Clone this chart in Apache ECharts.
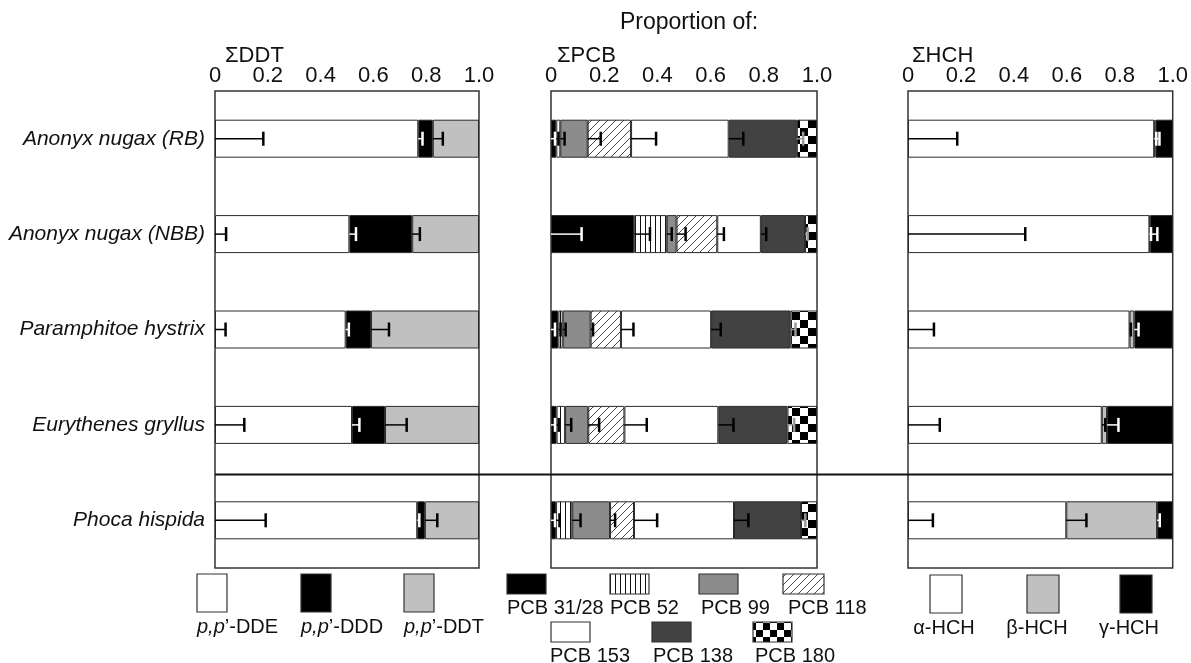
<!DOCTYPE html>
<html><head><meta charset="utf-8">
<script src="https://cdn.jsdelivr.net/npm/echarts@6/dist/echarts.min.js"></script>
<style>html,body{margin:0;padding:0;background:#fff}#c{width:1191px;height:663px}</style>
</head><body><div id="c"></div>
<script>
// ---------- DATA ----------
const categories = ['Anonyx nugax (RB)', 'Anonyx nugax (NBB)', 'Paramphitoe hystrix', 'Eurythenes gryllus', 'Phoca hispida'];
const tickLabels = ['0', '0.2', '0.4', '0.6', '0.8', '1.0'];

// ΣDDT proportions
const ddtDDE = [0.770, 0.509, 0.495, 0.519, 0.766];
const ddtDDD = [0.055, 0.238, 0.096, 0.125, 0.029];
const ddtDDT = [0.175, 0.253, 0.409, 0.356, 0.205];
const ddtErrBase = [0.183, 0.042, 0.040, 0.111, 0.192];
const ddtErrDDE  = [0.016, 0.025, 0.012, 0.028, 0.008];
const ddtErrDDD  = [0.038, 0.029, 0.068, 0.082, 0.047];

// ΣPCB proportions
const pcb31  = [0.020, 0.313, 0.028, 0.021, 0.019];
const pcb52  = [0.015, 0.122, 0.016, 0.032, 0.061];
const pcb99  = [0.103, 0.037, 0.105, 0.087, 0.142];
const pcb118 = [0.163, 0.153, 0.114, 0.136, 0.090];
const pcb153 = [0.367, 0.164, 0.339, 0.353, 0.376];
const pcb138 = [0.256, 0.166, 0.299, 0.260, 0.252];
const pcb180 = [0.076, 0.045, 0.099, 0.111, 0.060];
const pcbErrBase = [0.015, 0.115, 0.015, 0.015, 0.015];
const pcbErr31   = [0.008, 0.059, 0.008, 0.008, 0.013];
const pcbErr52   = [0.016, 0.019, 0.011, 0.023, 0.031];
const pcbErr99   = [0.049, 0.034, 0.009, 0.041, 0.019];
const pcbErr118  = [0.094, 0.025, 0.047, 0.084, 0.087];
const pcbErr153  = [0.055, 0.020, 0.036, 0.057, 0.054];
const pcbErr138  = [0.024, 0.010, 0.018, 0.025, 0.016];

// ΣHCH proportions
const hchA = [0.930, 0.912, 0.837, 0.732, 0.598];
const hchB = [0.005, 0.003, 0.018, 0.020, 0.343];
const hchG = [0.065, 0.085, 0.145, 0.248, 0.059];
const hchErrBase = [0.186, 0.443, 0.098, 0.120, 0.094];
const hchErrA    = [0.020, 0.030, 0.005, 0.013, 0.076];
const hchErrB    = [0.003, 0.003, 0.016, 0.043, 0.010];

// ---------- STYLE ----------
const FONT = '"Liberation Sans", Arial, Helvetica, sans-serif';

function makeCanvas(w, h, draw) {
  const c = document.createElement('canvas'); c.width = w; c.height = h;
  const g = c.getContext('2d'); g.fillStyle = '#fff'; g.fillRect(0, 0, w, h); draw(g); return c;
}
const stripeCanvas = makeCanvas(5, 8, g => { g.fillStyle = '#111'; g.fillRect(0, 0, 1, 8); });
const hatchCanvas = makeCanvas(8, 8, g => {
  g.strokeStyle = '#333'; g.lineWidth = 0.9; g.beginPath();
  g.moveTo(0, 8); g.lineTo(8, 0); g.moveTo(-1, 1); g.lineTo(1, -1); g.moveTo(7, 9); g.lineTo(9, 7); g.stroke();
});
const checkCanvas = makeCanvas(16, 16, g => { g.fillStyle = '#000'; g.fillRect(0, 0, 8, 8); g.fillRect(8, 8, 8, 8); });
const legCheckCanvas = makeCanvas(14, 14, g => { g.fillStyle = '#000'; g.fillRect(0, 0, 7, 7); g.fillRect(7, 7, 7, 7); });
const pat = c => ({ image: c, repeat: 'repeat' });

const panels = [
  { left: 215, width: 264, title: 'ΣDDT', titleX: 225,
    segs: [ddtDDE, ddtDDD, ddtDDT],
    names: ['p,p’-DDE', 'p,p’-DDD', 'p,p’-DDT'],
    fills: ['#ffffff', '#000000', '#c0c0c0'],
    errLine: ['#000', '#fff', '#000'],
    errs: [ddtErrBase, ddtErrDDE, ddtErrDDD] },
  { left: 551, width: 266, title: 'ΣPCB', titleX: 557,
    segs: [pcb31, pcb52, pcb99, pcb118, pcb153, pcb138, pcb180],
    names: ['PCB 31/28', 'PCB 52', 'PCB 99', 'PCB 118', 'PCB 153', 'PCB 138', 'PCB 180'],
    fills: ['#000000', pat(stripeCanvas), '#8c8c8c', pat(hatchCanvas), '#ffffff', '#424242', pat(checkCanvas)],
    errLine: ['#fff', '#000', '#000', '#000', '#000', '#000', '#999'],
    errs: [pcbErrBase, pcbErr31, pcbErr52, pcbErr99, pcbErr118, pcbErr153, pcbErr138] },
  { left: 908, width: 265, title: 'ΣHCH', titleX: 912,
    segs: [hchA, hchB, hchG],
    names: ['α-HCH', 'β-HCH', 'γ-HCH'],
    fills: ['#ffffff', '#c0c0c0', '#000000'],
    errLine: ['#000', '#000', '#fff'],
    errs: [hchErrBase, hchErrA, hchErrB] }
];

function lineColorAt(p, r, x) {
  let cum = 0;
  for (let k = 0; k < p.segs.length; k++) { cum += p.segs[k][r]; if (x <= cum) return p.errLine[k]; }
  return p.errLine[p.errLine.length - 1];
}
function errData(p) {
  const out = [];
  for (let r = 0; r < categories.length; r++) {
    out.push([0, p.errs[0][r], r, lineColorAt(p, r, p.errs[0][r] / 2)]);
    let cum = 0;
    for (let k = 0; k < p.errs.length - 1; k++) {
      cum += p.segs[k][r];
      const e = p.errs[k + 1][r];
      out.push([cum, cum + e, r, lineColorAt(p, r, cum + e / 2 + 1e-6)]);
    }
  }
  return out;
}
function renderErr(params, api) {
  const s = api.value(0), e = api.value(1), c = api.value(2);
  const col = api.value(3);
  const p0 = api.coord([s, c]), p1 = api.coord([e, c]);
  const h = 7;
  return { type: 'group', children: [
    { type: 'line', shape: { x1: p0[0], y1: p0[1], x2: p1[0], y2: p1[1] }, style: { stroke: col, lineWidth: 1.5 } },
    { type: 'line', shape: { x1: p1[0], y1: p1[1] - h, x2: p1[0], y2: p1[1] + h }, style: { stroke: col, lineWidth: 2.5 } }
  ] };
}

const GRID_TOP = 91, GRID_H = 477;
const series = [];
panels.forEach((p, i) => {
  p.segs.forEach((vals, k) => {
    series.push({
      type: 'bar', name: p.names[k], stack: 'S' + i, xAxisIndex: i, yAxisIndex: i,
      data: vals, barWidth: 38,
      itemStyle: { color: p.fills[k], borderColor: '#2a2a2a', borderWidth: 1 },
      emphasis: { disabled: true }, z: 2
    });
  });
  series.push({
    type: 'custom', xAxisIndex: i, yAxisIndex: i, renderItem: renderErr,
    data: errData(p), encode: { x: [0, 1], y: 2 }, z: 5, silent: true
  });
});

const option = {
  animation: false,
  backgroundColor: '#fff',
  textStyle: { fontFamily: FONT },
  grid: panels.map(p => ({ left: p.left, top: GRID_TOP, width: p.width, height: GRID_H, show: true,
    borderColor: '#333', borderWidth: 1.5, backgroundColor: 'transparent' })),
  xAxis: panels.map((p, i) => ({
    type: 'value', gridIndex: i, position: 'top', min: 0, max: 1, interval: 0.2,
    axisLine: { show: false }, axisTick: { show: false }, splitLine: { show: false },
    axisLabel: { margin: 4, fontSize: 22, color: '#111', fontFamily: FONT,
      formatter: v => tickLabels[Math.round(v / 0.2)] }
  })),
  yAxis: panels.map((p, i) => ({
    type: 'category', gridIndex: i, data: categories, inverse: true,
    axisLine: { show: false }, axisTick: { show: false }, splitLine: { show: false },
    axisLabel: { show: i === 0, margin: 10, fontSize: 21, fontStyle: 'italic', color: '#111', fontFamily: FONT }
  })),
  series: series
};

const chart = echarts.init(document.getElementById('c'), null, { renderer: 'canvas' });
chart.setOption(option);

// ---------- decorations: titles, separator, legends ----------
const y3 = chart.convertToPixel({ yAxisIndex: 0 }, 3);
const y4 = chart.convertToPixel({ yAxisIndex: 0 }, 4);
const sepY = (y3 + y4) / 2 + 2;

const txt = (text, x, y, size, align, extra) => ({
  type: 'text', x: x, y: y, silent: true,
  style: Object.assign({ text: text, fontSize: size, fontFamily: FONT, fill: '#111', align: align || 'left', verticalAlign: 'middle' }, extra || {})
});
const box = (x, y, w, h, fill) => ({
  type: 'rect', shape: { x: x, y: y, width: w, height: h }, silent: true,
  style: { fill: fill, stroke: '#333', lineWidth: 1.2 }
});

const g = [];
g.push(txt('Proportion of:', 689, 23, 23, 'center'));
panels.forEach(p => g.push(txt(p.title, p.titleX, 56, 22, 'left')));
g.push({ type: 'line', silent: true, shape: { x1: panels[0].left, y1: sepY, x2: panels[2].left + panels[2].width, y2: sepY },
  style: { stroke: '#111', lineWidth: 2 } });

const LEG_FS = 20;
// DDT legend
const ddtLegX = [197, 301, 404];
ddtLegX.forEach((x, k) => {
  g.push(box(x, 574, 30, 38, panels[0].fills[k]));
  const suffix = panels[0].names[k].replace('p,p', '');
  g.push(txt('{i|p,p}' + suffix, x, 627, LEG_FS, 'left', { rich: { i: { fontStyle: 'italic', fontSize: LEG_FS, fontFamily: FONT, fill: '#111' } } }));
});
// PCB legend
const pcbLeg = [[507, 574, 39], [610, 574, 39], [699, 574, 39], [783, 574, 41], [551, 622, 39], [652, 622, 39], [753, 622, 39]];
const pcbLabX = [507, 610, 701, 788, 550, 653, 755];
const pcbLegFills = panels[1].fills.slice(0, 6).concat([pat(legCheckCanvas)]);
pcbLeg.forEach((b, k) => {
  g.push(box(b[0], b[1], b[2], 20, pcbLegFills[k]));
  g.push(txt(panels[1].names[k], pcbLabX[k], b[1] + 34, LEG_FS, 'left'));
});
// HCH legend
const hchLegX = [930, 1027, 1120];
const hchLabX = [944, 1037, 1129];
hchLegX.forEach((x, k) => {
  g.push(box(x, 575, 32, 38, panels[2].fills[k]));
  g.push(txt(panels[2].names[k], hchLabX[k], 628, LEG_FS, 'center'));
});

chart.setOption({ graphic: { elements: g } });
</script></body></html>
